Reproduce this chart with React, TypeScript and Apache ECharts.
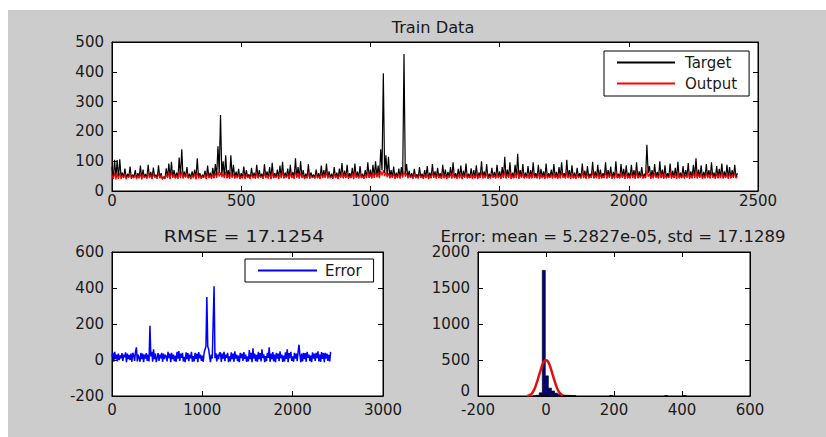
import React, { useEffect, useRef } from "react";
import * as echarts from "echarts";

// ---------- data ----------
const TOP_STEP = 5; // sample index spacing of the top arrays
const ERR_STEP = 10; // sample index spacing of the error array

const targetValues = [
  80, 42, 105, 45, 104, 40, 106, 48, 62, 44, 75, 41, 58, 46, 82, 43, 55, 47, 70, 42,
  60, 44, 85, 40, 72, 46, 57, 43, 88, 45, 64, 41, 79, 47, 55, 42, 86, 44, 60, 40,
  48, 43, 76, 45, 92, 41, 98, 46, 70, 44, 62, 42, 112, 45, 140, 43, 65, 47, 80, 44,
  58, 42, 66, 45, 72, 40, 110, 44, 60, 43, 55, 46, 68, 41, 85, 45, 62, 42, 78, 44,
  90, 48, 150, 60, 255, 52, 100, 45, 120, 44, 70, 42, 120, 46, 88, 43, 65, 45, 74, 41,
  60, 44, 82, 42, 70, 46, 56, 41, 78, 45, 62, 43, 88, 44, 70, 47, 58, 42, 90, 45,
  66, 43, 80, 41, 95, 44, 60, 46, 72, 42, 85, 45, 98, 43, 62, 46, 75, 41, 88, 44,
  64, 42, 110, 46, 80, 43, 100, 45, 70, 41, 58, 44, 90, 42, 62, 46, 55, 43, 72, 45,
  60, 41, 85, 44, 70, 46, 92, 43, 66, 45, 58, 42, 80, 44, 62, 41, 75, 46, 94, 43,
  68, 45, 88, 42, 60, 44, 78, 41, 92, 46, 65, 43, 84, 45, 58, 42, 70, 44, 96, 45,
  72, 43, 88, 46, 100, 48, 85, 45, 140, 70, 395, 60, 120, 50, 115, 44, 70, 46, 82, 42,
  62, 45, 75, 43, 80, 48, 460, 55, 90, 44, 68, 46, 60, 42, 74, 45, 56, 43, 80, 46,
  58, 42, 70, 45, 84, 41, 62, 44, 90, 46, 66, 43, 78, 45, 60, 42, 88, 44, 72, 41,
  64, 46, 80, 43, 96, 45, 60, 42, 74, 44, 85, 41, 68, 46, 92, 43, 58, 45, 76, 42,
  70, 44, 86, 41, 62, 46, 100, 43, 66, 45, 90, 42, 58, 44, 78, 46, 64, 43, 88, 45,
  66, 42, 80, 45, 115, 43, 72, 46, 96, 41, 62, 44, 88, 45, 125, 42, 70, 46, 90, 43,
  62, 45, 84, 42, 70, 44, 96, 46, 60, 43, 88, 41, 74, 45, 66, 42, 92, 44, 60, 46,
  72, 43, 90, 45, 64, 42, 80, 44, 96, 46, 60, 43, 105, 45, 70, 42, 86, 44, 62, 41,
  78, 46, 60, 43, 92, 45, 68, 42, 84, 44, 58, 46, 98, 43, 66, 45, 88, 42, 72, 44,
  60, 45, 96, 43, 70, 46, 82, 42, 64, 44, 100, 45, 58, 43, 90, 46, 74, 42, 86, 44,
  62, 43, 88, 45, 70, 42, 96, 44, 66, 46, 80, 43, 58, 45, 155, 60, 84, 42, 70, 44,
  90, 46, 64, 43, 100, 45, 72, 42, 86, 44, 60, 46, 92, 43, 68, 45, 78, 42, 98, 44,
  62, 45, 84, 43, 70, 46, 94, 42, 66, 44, 88, 45, 110, 43, 72, 46, 86, 42, 64, 44,
  90, 45, 70, 43, 96, 46, 62, 42, 84, 44, 74, 45, 92, 43, 66, 46, 88, 42, 80, 44,
  70, 46, 88, 44, 60,
];

const outputValues = [
  55, 40, 62, 38, 58, 42, 60, 40, 52, 44, 58, 39, 50, 45, 60, 41, 48, 43, 56, 40,
  52, 42, 60, 39, 55, 44, 50, 41, 62, 43, 54, 40, 58, 45, 48, 41, 60, 42, 53, 39,
  46, 41, 56, 43, 62, 40, 64, 44, 55, 42, 52, 41, 68, 43, 66, 42, 54, 45, 58, 42,
  50, 40, 54, 43, 58, 39, 62, 42, 52, 41, 48, 44, 56, 40, 60, 43, 52, 41, 57, 42,
  60, 44, 66, 48, 62, 46, 58, 43, 64, 42, 55, 41, 62, 44, 58, 42, 52, 43, 56, 40,
  50, 42, 60, 40, 55, 44, 49, 40, 58, 43, 52, 41, 62, 42, 55, 45, 50, 41, 60, 43,
  54, 42, 58, 40, 64, 43, 50, 44, 56, 41, 60, 43, 64, 42, 52, 44, 57, 40, 62, 43,
  53, 41, 66, 44, 58, 42, 62, 43, 55, 40, 50, 42, 62, 41, 52, 44, 48, 42, 56, 43,
  50, 40, 60, 43, 55, 44, 63, 42, 54, 43, 49, 41, 58, 43, 52, 40, 56, 44, 64, 42,
  55, 43, 61, 41, 50, 43, 58, 40, 63, 44, 53, 42, 60, 43, 49, 41, 56, 43, 65, 44,
  56, 42, 60, 44, 64, 46, 60, 43, 68, 52, 70, 50, 62, 46, 60, 42, 55, 44, 59, 41,
  52, 43, 57, 42, 60, 45, 66, 48, 60, 42, 55, 44, 50, 41, 57, 43, 48, 42, 58, 44,
  49, 41, 55, 43, 60, 40, 52, 42, 62, 44, 54, 42, 58, 43, 50, 41, 61, 42, 56, 40,
  52, 44, 58, 42, 64, 43, 50, 41, 56, 42, 60, 40, 54, 44, 62, 42, 49, 43, 57, 41,
  55, 42, 60, 40, 52, 44, 64, 42, 54, 43, 62, 41, 49, 42, 58, 44, 52, 42, 61, 43,
  54, 41, 58, 43, 66, 42, 56, 44, 63, 40, 52, 42, 61, 43, 68, 41, 55, 44, 62, 42,
  52, 43, 60, 41, 55, 42, 64, 44, 50, 42, 61, 40, 56, 43, 53, 41, 62, 42, 50, 44,
  56, 42, 62, 43, 52, 41, 58, 42, 64, 44, 50, 42, 66, 43, 55, 41, 60, 42, 51, 40,
  58, 44, 50, 42, 63, 43, 54, 41, 60, 42, 49, 44, 65, 42, 53, 43, 61, 41, 56, 42,
  50, 43, 64, 42, 56, 44, 59, 41, 52, 42, 66, 43, 49, 42, 62, 44, 57, 41, 60, 42,
  51, 42, 61, 43, 55, 41, 64, 42, 53, 44, 58, 42, 49, 43, 70, 48, 58, 41, 55, 42,
  62, 44, 52, 42, 66, 43, 56, 41, 60, 42, 50, 44, 63, 42, 54, 43, 58, 41, 65, 42,
  51, 43, 59, 42, 55, 44, 64, 41, 53, 42, 61, 43, 68, 42, 56, 44, 60, 41, 52, 42,
  62, 43, 55, 42, 64, 44, 51, 41, 59, 42, 57, 43, 63, 42, 53, 44, 61, 41, 58, 42,
  55, 44, 61, 42, 50,
];

const errorValues = [
  20, 40, -10, 45, 5, 30, -8, 35, 0, 25,
  10, 38, -5, 30, 15, 42, -12, 35, 5, 28,
  0, 35, -10, 40, 25, -5, 45, 70, -8, 30,
  12, -10, 40, 5, 35, -12, 30, 8, 38, -5,
  30, -8, 190, 20, 45, -10, 60, 5, 35, -12,
  15, 38, -5, 30, 10, 40, -10, 35, 5, 28,
  20, -8, 45, 10, 35, -12, 40, 5, 30, -6,
  25, -10, 45, 8, 50, -5, 35, 12, 40, -8,
  18, -12, 42, 5, 38, -6, 30, 10, 45, -10,
  22, -8, 40, 6, 35, -12, 44, 10, 30, -5,
  25, -10, 40, 60, 75, 350, 75, 60, 20, -12,
  30, 8, 215, 410, 10, 38, -8, 30, 5, 40,
  40, -10, 35, 8, 45, -6, 30, 12, 40, -12,
  20, -8, 42, 5, 36, -10, 48, 8, 30, -6,
  25, -12, 40, 10, 35, -5, 44, 6, 30, -10,
  20, -8, 55, 5, 40, -12, 65, 8, 35, -6,
  28, -10, 45, 5, 38, -8, 60, 10, 32, -12,
  22, -6, 40, 12, 70, -10, 36, 5, 44, -8,
  30, -12, 40, 8, 35, -6, 48, 10, 30, -10,
  25, -8, 42, 6, 60, -12, 38, 10, 45, -5,
  20, -10, 40, 8, 35, -6, 44, 85, 30, -12,
  35, -8, 40, 5, 38, -10, 45, 12, 30, -6,
  25, -12, 42, 8, 36, -5, 40, 10, 48, -8,
  30, -10, 44, 6, 38, -12, 40, 8, 35, -5,
  28, -8, 45,
];

const histCenters = [-33.5, -24.5, -15.5, -6.5, 2.5, 11.5, 20.5, 29.5, 38.5, 47.5, 56.5, 65.5, 74.5, 83.5, 191.5, 353.5, 407.5];
const histCounts = [3, 10, 45, 1745, 280, 110, 70, 40, 25, 15, 12, 10, 8, 6, 8, 5, 6];
const HIST_BIN_WIDTH = 9;

const fitX = [-55, -50, -45, -40, -35, -30, -25, -20, -15, -10, -5, 0, 5, 10, 15, 20, 25, 30, 35, 40, 45, 50];
const fitY = [2, 8, 20, 45, 85, 145, 215, 295, 370, 440, 485, 498, 482, 438, 368, 290, 212, 142, 84, 44, 20, 8];

const titleTop = "Train Data";
const titleRmse = "RMSE = 17.1254";
const titleHist = "Error: mean = 5.2827e-05, std = 17.1289";

// axis ranges
const topX = { min: 0, max: 2500, interval: 500 };
const topY = { min: 0, max: 500, interval: 100 };
const errX = { min: 0, max: 3000, interval: 1000 };
const errY = { min: -200, max: 600, interval: 200 };
const histX = { min: -200, max: 600, interval: 200 };
const histY = { min: 0, max: 2000, interval: 500 };

// ---------- styling ----------
const FONT = "DejaVu Sans";
const TXT = "#1a1a1a";
const plain = (v: number) => String(v);
const labelBase = { fontFamily: FONT, fontSize: 15, lineHeight: 11, color: TXT };

function xAx(grid: number, r: any, pos: "bottom" | "top", margin: number) {
  const main = pos === "bottom";
  return {
    type: "value",
    gridIndex: grid,
    position: pos,
    min: r.min,
    max: r.max,
    interval: r.interval,
    axisLine: { show: true, onZero: false, lineStyle: { color: "#000", width: 1 } },
    axisTick: { show: true, inside: true, length: 5, lineStyle: { color: "#000" } },
    axisLabel: { show: main, margin, ...labelBase, formatter: plain },
    splitLine: { show: false },
  };
}
function yAx(grid: number, r: any, pos: "left" | "right", liftMin = false) {
  const main = pos === "left";
  return {
    type: "value",
    gridIndex: grid,
    position: pos,
    min: r.min,
    max: r.max,
    interval: r.interval,
    axisLine: { show: true, onZero: false, lineStyle: { color: "#000", width: 1 } },
    axisTick: { show: true, inside: true, length: 5, lineStyle: { color: "#000" } },
    axisLabel: {
      show: main,
      margin: 8,
      ...labelBase,
      formatter: liftMin ? (v: number) => (v === r.min ? `{lift|${v}}` : String(v)) : plain,
      rich: { lift: { ...labelBase, padding: [0, 0, 10, 0] } },
    },
    splitLine: { show: false },
  };
}

function buildOption() {
  const targetData = targetValues.map((v, i) => [i * TOP_STEP, v]);
  const outputData = outputValues.map((v, i) => [i * TOP_STEP, v]);
  const errorData = errorValues.map((v, i) => [i * ERR_STEP, v]);
  const histData = histCenters.map((c, i) => [c, histCounts[i]]);
  const fitData = fitX.map((x, i) => [x, fitY[i]]);

  const gridBase = { show: true, backgroundColor: "#fff", borderColor: "#000", borderWidth: 1, containLabel: false };

  const titleText = (x: number, y: number, text: string, sx: number) => ({
    type: "text",
    x,
    y,
    scaleX: sx,
    style: {
      text,
      fill: TXT,
      font: `15px "${FONT}"`,
      textAlign: "center",
      textVerticalAlign: "middle",
    },
  });

  const legendBase = {
    orient: "vertical",
    itemHeight: 14,
    backgroundColor: "#fff",
    borderColor: "#000",
    borderWidth: 1,
    borderRadius: 0,
    selectedMode: false,
    itemStyle: { opacity: 0 },
  };

  return {
    animation: false,
    backgroundColor: "#cccccc",
    textStyle: { fontFamily: FONT },
    grid: [
      { ...gridBase, left: 104, top: 32, width: 646, height: 149 },
      { ...gridBase, left: 104, top: 242, width: 271, height: 144 },
      { ...gridBase, left: 470, top: 242, width: 272, height: 144 },
    ],
    xAxis: [
      xAx(0, topX, "bottom", 4),
      xAx(0, topX, "top", 4),
      xAx(1, errX, "bottom", 8),
      xAx(1, errX, "top", 8),
      xAx(2, histX, "bottom", 8),
      xAx(2, histX, "top", 8),
    ],
    yAxis: [
      yAx(0, topY, "left"),
      yAx(0, topY, "right"),
      yAx(1, errY, "left"),
      yAx(1, errY, "right"),
      yAx(2, histY, "left", true),
      yAx(2, histY, "right"),
    ],
    legend: [
      {
        ...legendBase,
        data: ["Target", "Output"],
        left: 596,
        top: 41,
        itemWidth: 58,
        itemGap: 6,
        padding: [4, 12, 5, 12],
        textStyle: { fontFamily: FONT, fontSize: 15, lineHeight: 14, color: TXT, padding: [0, 0, 0, 5] },
      },
      {
        ...legendBase,
        data: ["Error"],
        left: 237,
        top: 249,
        itemWidth: 59,
        padding: [4, 12, 4, 12],
        textStyle: { fontFamily: FONT, fontSize: 15, lineHeight: 14, color: TXT, padding: [0, 0, 0, 3] },
      },
    ],
    graphic: [
      titleText(425, 18, titleTop, 1.08),
      titleText(236, 227, titleRmse, 1.27),
      titleText(605, 227, titleHist, 1.1),
    ],
    series: [
      {
        name: "Target",
        type: "line",
        xAxisIndex: 0,
        yAxisIndex: 0,
        data: targetData,
        symbol: "none",
        color: "#000",
        lineStyle: { color: "#000", width: 1.2 },
        z: 2,
      },
      {
        name: "Output",
        type: "line",
        xAxisIndex: 0,
        yAxisIndex: 0,
        data: outputData,
        symbol: "none",
        color: "#ff0000",
        lineStyle: { color: "#ff0000", width: 1.1 },
        z: 3,
      },
      {
        name: "Error",
        type: "line",
        xAxisIndex: 2,
        yAxisIndex: 2,
        data: errorData,
        symbol: "none",
        color: "#0000ff",
        lineStyle: { color: "#0000ff", width: 1.5 },
      },
      {
        name: "Histogram",
        type: "custom",
        xAxisIndex: 4,
        yAxisIndex: 4,
        data: histData,
        clip: true,
        renderItem: (params: any, api: any) => {
          const c = api.value(0);
          const n = api.value(1);
          const p0 = api.coord([c - HIST_BIN_WIDTH / 2, n]);
          const p1 = api.coord([c + HIST_BIN_WIDTH / 2, 0]);
          return {
            type: "rect",
            shape: { x: p0[0], y: p0[1], width: p1[0] - p0[0], height: p1[1] - p0[1] },
            style: { fill: "#000080", stroke: "#000", lineWidth: 0.6 },
          };
        },
        z: 2,
      },
      {
        name: "Fit",
        type: "line",
        xAxisIndex: 4,
        yAxisIndex: 4,
        data: fitData,
        symbol: "none",
        smooth: true,
        color: "#dd1111",
        lineStyle: { color: "#dd1111", width: 2.5 },
        z: 3,
      },
    ],
  };
}

export default function App() {
  const ref = useRef<HTMLDivElement>(null);
  useEffect(() => {
    document.body.style.margin = "0";
    const chart = echarts.init(ref.current!, null, { renderer: "svg" });
    chart.setOption(buildOption() as any);
    return () => chart.dispose();
  }, []);
  return (
    <div style={{ position: "fixed", left: 0, top: 0, width: 826, height: 437, background: "#fff" }}>
      <div ref={ref} style={{ position: "absolute", left: 8, top: 10, width: 818, height: 427 }} />
    </div>
  );
}
